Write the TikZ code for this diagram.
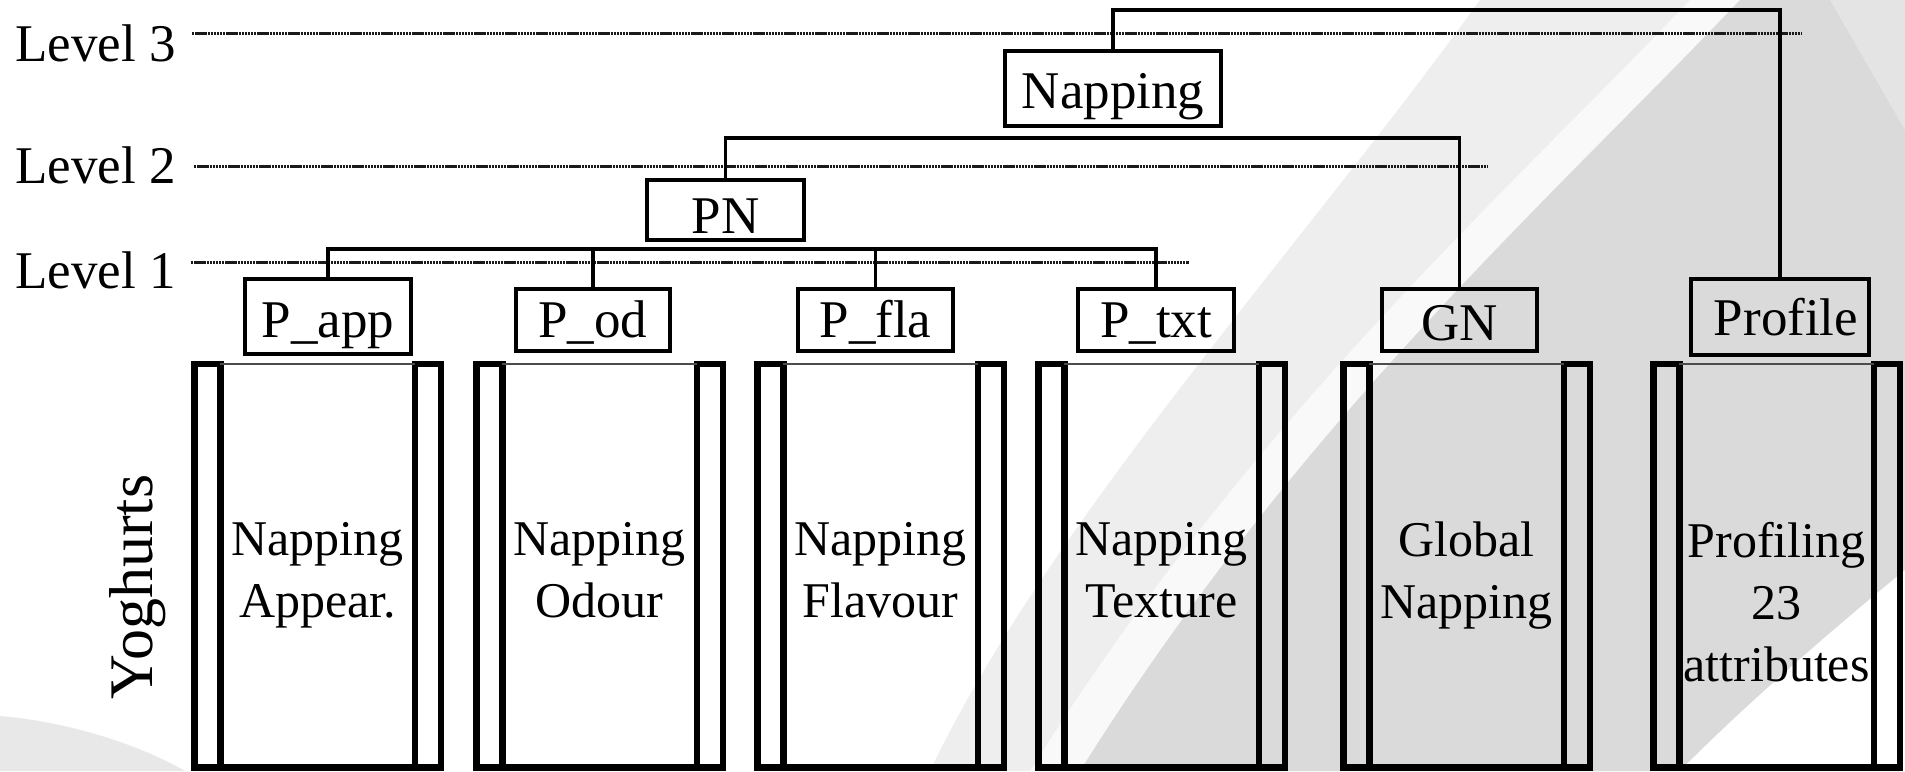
\documentclass[tikz,border=0pt]{standalone}
\usepackage{fontspec}
\setmainfont{Liberation Serif}

\definecolor{bandgrey}{HTML}{EEEEEE}
\definecolor{deepgrey}{HTML}{DADADA}
\definecolor{glossgrey}{HTML}{F9F9F9}
\definecolor{cornergrey}{HTML}{E4E4E4}
\definecolor{swooshgrey}{HTML}{E8E8E8}
\definecolor{levelgrey}{HTML}{1A1A1A}

\tikzset{
  lvlline/.style={line width=3pt, levelgrey, dash pattern=on 2.4pt off 0.7pt},
  lvltext/.style={anchor=base west, inner sep=0pt, font=\fontsize{53}{60}\selectfont},
  tbox/.style={draw, line width=4pt, inner sep=0pt, text depth=0pt,
               font=\fontsize{53}{60}\selectfont},
  conn/.style={line width=3.5pt, line join=miter},
  colline/.style={line width=6.5pt, line join=miter},
  coltop/.style={line width=1.5pt, black!70},
  coltext/.style={anchor=north, inner sep=0pt, align=center,
                  font=\fontsize{50}{62}\selectfont},
}

% one data column: #1 left outer edge, #2 node name, #3 label
\newcommand{\yogcol}[3]{%
  \draw[colline] ({#1+3.25},364) rectangle ({#1+29.25},767.5);
  \draw[colline] ({#1+223.75},364) rectangle ({#1+249.75},767.5);
  \draw[colline] ({#1+29.25},767.5) -- ({#1+223.75},767.5);
  \draw[coltop] ({#1+29.25},364) -- ({#1+223.75},364);
  \node[coltext] (#2) at ({#1+126.5},522) {#3};
}

\begin{document}
\begin{tikzpicture}[x=1pt, y=-1pt]
\useasboundingbox (0,0) rectangle (1905,771);

% slide background with its grey swooshes
\fill[white] (0,0) rectangle (1905,771);
\fill[bandgrey] (1480,0) -- (1905,0) -- (1905,771) -- (930,771)
  .. controls (1050,520) and (1300,250) .. (1480,0) -- cycle;
\fill[glossgrey] (1690,0) -- (1905,0) -- (1905,771) -- (1030,771)
  .. controls (1250,420) and (1500,200) .. (1690,0) -- cycle;
\fill[deepgrey] (1740,0) -- (1905,0) -- (1905,771) -- (1080,771)
  .. controls (1300,420) and (1550,200) .. (1740,0) -- cycle;
\fill[cornergrey] (1830,0) -- (1905,0) -- (1905,130) -- cycle;
\fill[white] (1905,570) .. controls (1820,640) and (1740,710) .. (1680,771)
  -- (1905,771) -- cycle;
\fill[swooshgrey] (0,716) .. controls (70,722) and (140,745) .. (185,771)
  -- (0,771) -- cycle;

% level labels and guide lines
\node[lvltext] (lv3) at (15,61)  {Level 3};
\node[lvltext] (lv2) at (15,183) {Level 2};
\node[lvltext] (lv1) at (15,288) {Level 1};
\coordinate (l3a) at (192,33.5);  \coordinate (l3b) at (1801,33.5);
\coordinate (l2a) at (194,166);   \coordinate (l2b) at (1488,166);
\coordinate (l1a) at (191,262);   \coordinate (l1b) at (1189,262);
\draw[lvlline] (l3a) -- (l3b);
\draw[lvlline] (l2a) -- (l2b);
\draw[lvlline] (l1a) -- (l1b);

% tree nodes
\node[tbox, minimum width=216pt, minimum height=75pt, text height=39pt] (nap)  at (1113,88.5) {Napping};
\node[tbox, minimum width=157pt, minimum height=60pt, text height=46pt] (pn)   at (725.5,210) {PN};
\node[tbox, minimum width=166pt, minimum height=75pt, text height=41pt] (papp) at (328,316.5) {P\_app};
\node[tbox, minimum width=154pt, minimum height=62pt, text height=34pt] (pod)  at (593,320)   {P\_od};
\node[tbox, minimum width=155pt, minimum height=62pt, text height=34pt] (pfla) at (875.5,320) {P\_fla};
\node[tbox, minimum width=156pt, minimum height=62pt, text height=34pt] (ptxt) at (1156,320)  {P\_txt};
\node[tbox, minimum width=155pt, minimum height=62pt, text height=40pt] (gn)   at (1459.5,320) {GN};
\node[tbox, minimum width=178pt, minimum height=76pt, text height=36pt] (prof) at (1780,317)  {\hspace*{12pt}Profile};

% tree branches
\coordinate (j3) at (1113,10);
\coordinate (j2) at (725.5,138);
\coordinate (j1) at (328,249);
\draw[conn] (nap.north) -- (j3) -| (prof.north);
\draw[conn] (pn.north) -- (j2) -| (gn.north);
\draw[conn] (papp.north) -- (j1) -| (ptxt.north);
\draw[conn] (pod.north) -- (pod.north |- j1);
\draw[conn] (pfla.north) -- (pfla.north |- j1);

% data columns
\yogcol{191}{c1}{Napping\\Appear.}
\yogcol{473}{c2}{Napping\\Odour}
\yogcol{754}{c3}{Napping\\Flavour}
\yogcol{1035}{c4}{Napping\\Texture}
\yogcol{1340}{c5}{Global\\Napping}
\yogcol{1650}{c6}{Profiling\\23\\attributes}

% row label
\node[rotate=90, anchor=base, inner sep=0pt, font=\fontsize{62}{62}\selectfont] (yog) at (152,587) {Yoghurts};
\end{tikzpicture}
\end{document}
